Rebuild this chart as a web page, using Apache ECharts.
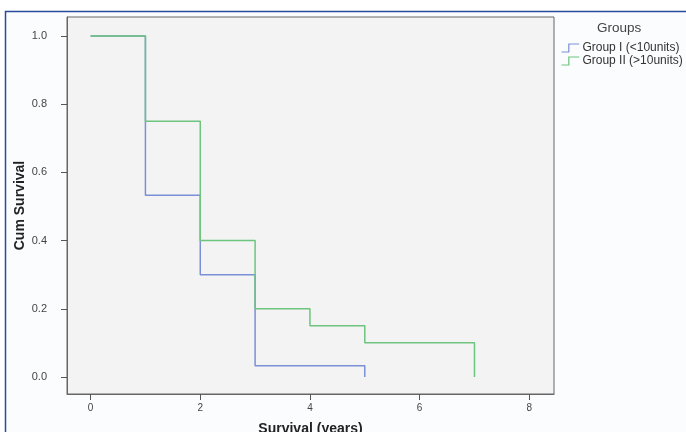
<!DOCTYPE html>
<html>
<head>
<meta charset="utf-8">
<script src="https://cdn.jsdelivr.net/npm/echarts@6/dist/echarts.min.js"></script>
<style>html,body{margin:0;padding:0;background:#fff;}#c{width:686px;height:432px;}</style>
</head>
<body>
<div id="c"></div>
<script>
var seriesNames = ['Group I (<10units)', 'Group II (>10units)'];
var group1Times = [0, 1, 2, 3, 5];
var group1Surv = [1.0, 0.533, 0.30, 0.033, 0.0];
var group2Times = [0, 1, 2, 3, 4, 5, 7];
var group2Surv = [1.0, 0.75, 0.40, 0.20, 0.15, 0.10, 0.0];
var xTicks = [0, 2, 4, 6, 8];
var yTicks = [0.0, 0.2, 0.4, 0.6, 0.8, 1.0];

function pairs(t, s) { return t.map(function (v, i) { return [v, s[i]]; }); }

var chart = echarts.init(document.getElementById('c'));
var stepIcon = 'path://M0,10 L9,10 L9,0 L22,0';
chart.setOption({
  backgroundColor: '#fff',
  animation: false,
  graphic: [
    { type: 'rect', shape: { x: 5.5, y: 11.5, width: 700, height: 440 },
      style: { fill: '#fbfcfe', stroke: '#2a4a9a', lineWidth: 1.5 }, z: -10 },
    { type: 'text', left: 597, top: 21,
      style: { text: 'Groups', font: '13.5px "Liberation Sans", Arial, sans-serif', fill: '#444' } }
  ],
  grid: { left: 67, top: 17, right: 132, bottom: 38, show: true, outerBoundsMode: 'none', containLabel: false,
    backgroundColor: '#f3f3f4', borderColor: '#666', borderWidth: 1 },
  legend: {
    orient: 'vertical', left: 556, top: 37, itemGap: 1, itemWidth: 22, itemHeight: 8,
    textStyle: { fontSize: 12, color: '#333', fontFamily: '"Liberation Sans", Arial, sans-serif', padding: [0, 0, 0, -4] },
    data: [
      { name: seriesNames[0], icon: stepIcon, itemStyle: { color: 'transparent', borderColor: '#7b8fd6', borderWidth: 1.2 } },
      { name: seriesNames[1], icon: stepIcon, itemStyle: { color: 'transparent', borderColor: '#6cc47d', borderWidth: 1.2 } }
    ]
  },
  xAxis: {
    type: 'value', min: -0.43, max: 8.45,
    name: 'Survival (years)', nameLocation: 'middle', nameGap: 28, nameMoveOverlap: false,
    nameTextStyle: { fontSize: 14, fontWeight: 'bold', color: '#222', fontFamily: '"Liberation Sans", Arial, sans-serif' },
    axisLine: { show: true, onZero: false, lineStyle: { color: '#666' } },
    axisTick: { show: true, length: 6, lineStyle: { color: '#555' }, customValues: xTicks },
    axisLabel: { color: '#444', fontSize: 10, margin: 9, customValues: xTicks, formatter: function (v) { return String(v); } },
    splitLine: { show: false }
  },
  yAxis: {
    type: 'value', min: -0.05, max: 1.056,
    name: 'Cum Survival', nameLocation: 'middle', nameGap: 40, nameRotate: 90, nameMoveOverlap: false,
    nameTextStyle: { fontSize: 14, fontWeight: 'bold', color: '#222', fontFamily: '"Liberation Sans Narrow", "Liberation Sans", Arial, sans-serif' },
    axisLine: { show: true, onZero: false, lineStyle: { color: '#666' } },
    axisTick: { show: true, length: 6, lineStyle: { color: '#555' }, customValues: yTicks },
    axisLabel: { color: '#444', fontSize: 11, margin: 20, customValues: yTicks, formatter: function (v) { return v.toFixed(1); } },
    splitLine: { show: false }
  },
  series: [
    { name: seriesNames[0], type: 'line', step: 'end', symbol: 'none',
      data: pairs(group1Times, group1Surv), lineStyle: { color: '#7b8fd6', width: 1.5 }, itemStyle: { color: '#7b8fd6' } },
    { name: seriesNames[1], type: 'line', step: 'end', symbol: 'none',
      data: pairs(group2Times, group2Surv), lineStyle: { color: '#6cc47d', width: 1.5 }, itemStyle: { color: '#6cc47d' } }
  ]
});
</script>
</body>
</html>
